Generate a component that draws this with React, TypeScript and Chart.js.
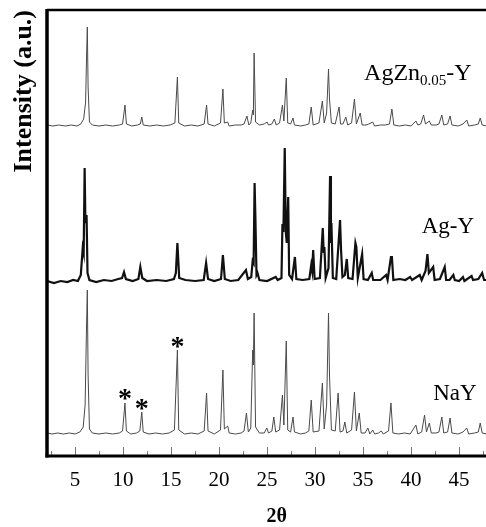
import React, { useEffect, useRef } from "react";
import { Chart, registerables } from "chart.js";

Chart.register(...registerables);

// 2θ (deg), intensity above each trace's baseline (a.u.)
const NAY: number[][] = [
  [2.1,2],[2.6,1],[3.2,2],[3.8,1],[4.4,2],[5.0,1],[5.5,3],[5.85,8],[6.05,30],[6.2,110],[6.28,145],[6.36,60],[6.5,6],[6.8,2],[7.5,1],[8.2,2],[8.9,1],[9.6,2],[9.95,4],[10.2,32],[10.35,4],[10.8,1],[11.4,2],[11.75,4],[11.95,23],[12.1,3],[12.7,1],[13.4,2],[14.1,1],[14.8,2],[15.35,5],[15.66,85],[15.8,5],[16.4,1],[17.1,2],[17.8,1],[18.45,4],[18.7,42],[18.85,4],[19.5,1],[20.15,5],[20.4,65],[20.55,6],[20.9,9],[21.05,2],[21.7,1],[22.3,2],[22.6,4],[22.85,22],[23.05,3],[23.3,7],[23.5,85],[23.57,70],[23.65,122],[23.8,8],[24.2,2],[24.7,2],[24.97,7],[25.15,2],[25.5,4],[25.7,18],[25.9,3],[26.3,5],[26.6,40],[26.75,10],[27.0,94],[27.15,5],[27.45,3],[27.7,18],[27.85,3],[28.5,1],[29.0,2],[29.35,4],[29.6,35],[29.8,3],[30.4,4],[30.76,52],[30.95,6],[31.2,30],[31.4,122],[31.5,60],[31.7,5],[32.1,4],[32.4,42],[32.6,3],[32.9,4],[33.1,13],[33.3,2],[33.8,5],[34.1,43],[34.3,4],[34.6,22],[34.8,2],[35.2,2],[35.5,7],[35.7,1],[36.0,5],[36.2,1],[36.6,2],[36.9,4],[37.1,1],[37.65,4],[37.9,32],[38.1,2],[38.7,1],[39.3,2],[39.9,1],[40.5,10],[40.7,1],[41.1,3],[41.4,20],[41.6,3],[41.9,12],[42.1,2],[42.6,2],[42.9,3],[43.2,18],[43.4,2],[43.8,3],[44.06,17],[44.25,2],[44.9,1],[45.4,3],[45.8,7],[46.0,1],[46.6,2],[47.0,3],[47.2,12],[47.4,2],[47.9,1]
];

const AGY: number[][] = [
  [2.1,2],[2.8,0],[3.5,2],[4.2,1],[4.8,3],[5.3,2],[5.6,8],[5.8,35],[5.9,30],[6.0,115],[6.08,60],[6.2,68],[6.3,10],[6.5,3],[7.2,1],[8.0,3],[8.8,2],[9.5,4],[9.9,5],[10.1,11],[10.3,4],[11.0,2],[11.6,4],[11.8,16],[12.0,5],[12.5,2],[13.5,3],[14.5,2],[15.3,4],[15.5,10],[15.66,40],[15.85,5],[16.5,3],[17.5,2],[18.4,3],[18.65,20],[18.85,4],[19.5,2],[20.2,4],[20.4,28],[20.6,4],[21.2,2],[22.0,3],[22.8,13],[23.0,4],[23.35,6],[23.5,22],[23.6,20],[23.7,100],[23.78,67],[23.9,8],[24.0,10],[24.2,3],[25.0,2],[25.9,6],[26.1,3],[26.5,5],[26.6,59],[26.7,51],[26.84,135],[26.95,51],[27.05,40],[27.2,86],[27.3,8],[27.6,4],[27.9,26],[28.05,4],[28.7,3],[29.4,4],[29.6,18],[29.7,12],[29.8,33],[29.95,4],[30.5,5],[30.8,55],[30.9,30],[30.97,36],[31.1,5],[31.4,15],[31.56,107],[31.65,40],[31.7,60],[31.85,5],[32.2,4],[32.6,63],[32.7,34],[32.85,6],[33.1,8],[33.3,24],[33.45,5],[33.9,4],[34.2,40],[34.3,36],[34.45,5],[34.9,29],[35.05,4],[35.5,3],[35.9,10],[36.05,3],[36.8,3],[37.4,8],[37.55,3],[37.9,26],[38.0,26],[38.15,3],[38.8,4],[39.4,3],[39.9,6],[40.1,3],[40.9,8],[41.1,3],[41.5,12],[41.7,29],[41.85,10],[42.3,16],[42.45,3],[43.0,4],[43.5,16],[43.65,3],[44.0,3],[44.4,8],[44.55,3],[45.0,2],[45.4,6],[45.55,2],[46.3,7],[46.45,3],[47.0,4],[47.4,10],[47.6,3],[48.0,3]
];

const AGZN: number[][] = [
  [2.1,2],[2.7,1],[3.3,2],[4.0,1],[4.6,2],[5.2,1],[5.6,3],[5.9,8],[6.1,25],[6.2,70],[6.28,100],[6.36,40],[6.5,5],[6.8,2],[7.5,1],[8.2,2],[8.9,1],[9.6,2],[9.95,3],[10.2,22],[10.35,3],[10.9,1],[11.5,2],[11.8,3],[11.95,10],[12.1,2],[12.8,1],[13.5,2],[14.2,1],[14.9,2],[15.4,4],[15.66,50],[15.8,4],[16.4,1],[17.1,2],[17.8,1],[18.45,3],[18.7,22],[18.85,3],[19.5,1],[20.15,4],[20.4,38],[20.55,4],[20.9,5],[21.05,1],[21.7,2],[22.3,2],[22.6,3],[22.9,11],[23.1,2],[23.3,4],[23.5,17],[23.57,12],[23.65,74],[23.8,5],[24.2,2],[24.7,3],[25.0,5],[25.15,2],[25.5,3],[25.76,8],[25.95,2],[26.3,4],[26.6,22],[26.75,6],[27.0,49],[27.15,4],[27.45,3],[27.7,9],[27.85,2],[28.5,1],[29.0,2],[29.35,3],[29.6,20],[29.8,2],[30.4,4],[30.76,26],[30.95,4],[31.2,14],[31.4,58],[31.5,28],[31.7,4],[32.1,3],[32.5,20],[32.65,3],[32.9,3],[33.2,10],[33.4,2],[33.8,4],[34.1,28],[34.3,3],[34.7,14],[34.9,2],[35.3,2],[35.6,3],[36.0,5],[36.2,1],[36.8,2],[37.3,2],[37.75,3],[38.0,18],[38.2,2],[38.8,1],[39.4,2],[40.0,1],[40.5,6],[40.7,2],[41.0,3],[41.3,12],[41.5,3],[41.9,6],[42.1,2],[42.6,2],[42.9,3],[43.2,12],[43.4,2],[43.8,3],[44.06,11],[44.25,2],[44.9,1],[45.4,3],[45.8,7],[46.0,1],[46.6,2],[47.0,3],[47.2,9],[47.4,2],[47.9,1]
];

// vertical stacking offsets of each trace (a.u.)
const OFFSETS = { nay: 21, agy: 173, agzn: 329 };

const X_TICKS = [2.5, 5, 7.5, 10, 12.5, 15, 17.5, 20, 22.5, 25, 27.5, 30, 32.5, 35, 37.5, 40, 42.5, 45, 47.5];
const X_MIN = 2.08;
const X_MAX = 47.8;
const Y_MAX = 446;

// marked peaks (asterisks) on NaY: 2θ and height (a.u., absolute)
const STAR_X = [10.2, 11.95, 15.66];
const STAR_Y = [62, 52, 114];

const SERIF = '"Liberation Serif", "Times New Roman", serif';

const toXY = (arr: number[][], off: number) => arr.map(([x, y]) => ({ x, y: y + off }));

const overlay = {
  id: "overlay",
  afterDatasetsDraw(chart: any) {
    const { ctx, chartArea: a, scales } = chart;
    const xs = scales.x, ys = scales.y;
    ctx.save();
    // inward ticks
    ctx.strokeStyle = "#777";
    ctx.lineWidth = 1;
    X_TICKS.forEach((v) => {
      const px = Math.round(xs.getPixelForValue(v)) + 0.5;
      const len = v % 5 === 0 ? 9 : 5;
      ctx.beginPath();
      ctx.moveTo(px, a.bottom);
      ctx.lineTo(px, a.bottom - len);
      ctx.stroke();
    });
    // frame
    ctx.strokeStyle = "#000";
    ctx.lineWidth = 2.5;
    ctx.beginPath();
    ctx.moveTo(a.left, a.top);
    ctx.lineTo(a.right, a.top);
    ctx.stroke();
    ctx.lineWidth = 3.5;
    ctx.beginPath();
    ctx.moveTo(a.left, a.top - 1);
    ctx.lineTo(a.left, a.bottom + 1.5);
    ctx.stroke();
    ctx.lineWidth = 3;
    ctx.beginPath();
    ctx.moveTo(a.left - 1.5, a.bottom);
    ctx.lineTo(a.right, a.bottom);
    ctx.stroke();

    // sample labels
    ctx.fillStyle = "#000";
    ctx.textBaseline = "alphabetic";
    ctx.textAlign = "left";
    const big = `23px ${SERIF}`;
    const sub = `15px ${SERIF}`;
    ctx.font = big;
    ctx.fillText("NaY", xs.getPixelForValue(42.3), ys.getPixelForValue(56));
    ctx.fillText("Ag-Y", xs.getPixelForValue(41.1), ys.getPixelForValue(223));
    ctx.font = `24px ${SERIF}`;
    let px = xs.getPixelForValue(35.1);
    const py = ys.getPixelForValue(376);
    ctx.fillText("AgZn", px, py);
    px += ctx.measureText("AgZn").width;
    ctx.font = sub;
    ctx.fillText("0.05", px, py + 5);
    px += ctx.measureText("0.05").width;
    ctx.font = `24px ${SERIF}`;
    ctx.fillText("-Y", px, py);

    // asterisks
    ctx.font = `bold 28px ${SERIF}`;
    ctx.textAlign = "center";
    ctx.textBaseline = "middle";
    STAR_X.forEach((v, i) => {
      ctx.fillText("*", xs.getPixelForValue(v), ys.getPixelForValue(STAR_Y[i]) + 6);
    });

    // x title
    ctx.font = `bold 20px ${SERIF}`;
    ctx.textBaseline = "middle";
    ctx.fillText("2θ", xs.getPixelForValue(26), 517);
    ctx.restore();
  },
};

export default function App() {
  const ref = useRef<HTMLCanvasElement>(null);
  useEffect(() => {
    document.body.style.margin = "0";
    const line = (data: any, color: string, w: number) => ({
      data,
      borderColor: color,
      borderWidth: w,
      pointRadius: 0,
      tension: 0,
      fill: false,
    });
    const chart = new Chart(ref.current!, {
      type: "line",
      data: {
        datasets: [
          line(toXY(NAY, OFFSETS.nay), "#4a4a4a", 1),
          line(toXY(AGY, OFFSETS.agy), "#111", 2.2),
          line(toXY(AGZN, OFFSETS.agzn), "#4a4a4a", 1),
        ] as any,
      },
      options: {
        responsive: false,
        animation: false,
        layout: { padding: { top: 10, right: 0, left: 0, bottom: 0 } },
        plugins: { legend: { display: false }, tooltip: { enabled: false } },
        scales: {
          x: {
            type: "linear",
            min: X_MIN,
            max: X_MAX,
            afterBuildTicks: (s: any) => {
              s.ticks = X_TICKS.map((v) => ({ value: v }));
            },
            afterFit: (s: any) => {
              s.height = 71;
              s.paddingLeft = 0;
              s.paddingRight = 0;
            },
            grid: { display: false },
            border: { display: false },
            ticks: {
              autoSkip: false,
              maxRotation: 0,
              padding: 4,
              color: "#000",
              font: { family: SERIF, size: 21 },
              callback: (v: any) => (Number(v) % 5 === 0 ? String(v) : ""),
            },
          },
          y: {
            type: "linear",
            min: 0,
            max: Y_MAX,
            afterFit: (s: any) => {
              s.width = 47;
            },
            grid: { display: false },
            border: { display: false },
            ticks: { display: false },
            title: {
              display: true,
              text: "Intensity (a.u.)",
              align: "end",
              color: "#000",
              padding: { top: 9, bottom: 0 },
              font: { family: SERIF, size: 26, weight: "bold" },
            },
          },
        },
      },
      plugins: [overlay],
    });
    return () => chart.destroy();
  }, []);
  return <canvas ref={ref} width={486} height={527} style={{ display: "block" }} />;
}
